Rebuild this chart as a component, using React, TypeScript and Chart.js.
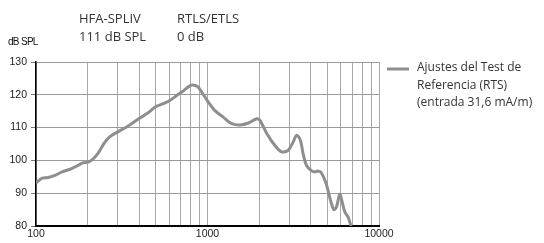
import { useEffect, useRef } from 'react';
import { Chart, registerables } from 'chart.js';

Chart.register(...registerables);

const frequencies = [
  100, 108, 118, 130, 142, 158, 173, 189, 202, 216, 231, 242, 259, 277, 300,
  354, 400, 453, 495, 552, 600, 662, 724, 797, 840, 880, 923, 1011, 1110, 1235,
  1384, 1547, 1733, 1935, 2022, 2216, 2467, 2705, 2960, 3150, 3314, 3483, 3608,
  3773, 4052, 4231, 4393, 4600, 4923, 5155, 5446, 5647, 5910, 6130, 6320, 6610, 6870,
];
const levels = [
  93.1, 94.5, 94.8, 95.5, 96.5, 97.3, 98.3, 99.3, 99.5, 100.5, 102.3, 104.1, 106.4, 107.7, 108.7,
  110.9, 112.8, 114.6, 116.3, 117.3, 118.2, 119.8, 121.2, 122.9, 122.9, 122.4, 120.9, 117.8, 115.1, 113.2,
  111.2, 110.8, 111.4, 112.7, 112.2, 108.2, 104.6, 102.6, 103.1, 105.5, 107.7, 106.1, 102.1,
  98.5, 96.8, 96.5, 96.8, 96.3, 92.9, 88.8, 85.0, 85.8, 89.7, 86.8, 84.3, 82.7, 79.9,
];
const xGridValues = [
  100, 200, 300, 400, 500, 600, 700, 800, 900,
  1000, 2000, 3000, 4000, 5000, 6000, 7000, 8000, 9000, 10000,
];
const xLabels = [100, 1000, 10000];
const yMin = 80;
const yMax = 130;
const yStep = 10;
const yUnit = 'dB SPL';
const headerLeft = ['HFA-SPLIV', '111 dB SPL'];
const headerRight = ['RTLS/ETLS', '0 dB'];
const seriesLabel = ['Ajustes del Test de', 'Referencia (RTS)', '(entrada 31,6 mA/m)'];

const LINE_COLOR = '#8e8e8e';

export default function App() {
  const ref = useRef<HTMLCanvasElement | null>(null);

  useEffect(() => {
    document.body.style.margin = '0';
    const canvas = ref.current;
    if (!canvas) return;

    const textPlugin = {
      id: 'texts',
      afterDraw(chart: any) {
        const ctx = chart.ctx as CanvasRenderingContext2D;
        ctx.save();
        ctx.fillStyle = '#333';
        ctx.textBaseline = 'middle';
        ctx.textAlign = 'left';
        ctx.font = '13px "Open Sans"';
        ctx.fillText(headerLeft[0], 79, 19);
        ctx.fillText(headerLeft[1], 79, 37);
        ctx.fillText(headerRight[0], 177, 19);
        ctx.fillText(headerRight[1], 177, 37);

        ctx.font = '10px "Liberation Sans"';
        (ctx as any).letterSpacing = '-0.7px';
        ctx.fillStyle = '#111';
        ctx.fillText(yUnit, 8, 42);
        (ctx as any).letterSpacing = '0px';

        // legend
        ctx.strokeStyle = LINE_COLOR;
        ctx.lineWidth = 3;
        ctx.beginPath();
        ctx.moveTo(387, 69);
        ctx.lineTo(409, 69);
        ctx.stroke();
        ctx.fillStyle = '#333';
        ctx.font = '12px "Open Sans"';
        seriesLabel.forEach((t, i) => ctx.fillText(t, 417, 68 + i * 17.5));
        ctx.restore();
      },
    };

    const chart = new Chart(canvas, {
      type: 'line',
      data: {
        datasets: [
          {
            data: frequencies.map((f, i) => ({ x: f, y: levels[i] })),
            borderColor: LINE_COLOR,
            borderWidth: 3,
            pointRadius: 0,
            tension: 0.3,
            fill: false,
          },
        ],
      },
      options: {
        responsive: false,
        animation: false,
        layout: { padding: { top: 62, right: 165, left: 0, bottom: 0 } },
        plugins: { legend: { display: false }, tooltip: { enabled: false } },
        scales: {
          x: {
            type: 'logarithmic',
            min: 100,
            max: 10000,
            afterBuildTicks: (s: any) => {
              s.ticks = xGridValues.map((v) => ({ value: v }));
            },
            afterFit: (s: any) => {
              s.height = 17;
            },
            ticks: {
              autoSkip: false,
              maxRotation: 0,
              padding: 2,
              color: '#222',
              font: { family: '"Liberation Sans", Arial', size: 10.5 },
              callback: (v: any) => (xLabels.includes(Number(v)) ? String(v) : ''),
            },
            grid: { color: '#a8a8a8', lineWidth: 1, drawTicks: false },
            border: { display: true, color: '#000', width: 2 },
          },
          y: {
            type: 'linear',
            min: yMin,
            max: yMax,
            afterFit: (s: any) => {
              s.width = 36;
            },
            ticks: {
              stepSize: yStep,
              padding: 4,
              color: '#222',
              font: { family: '"Liberation Sans", Arial', size: 10.5 },
            },
            grid: { color: '#9a9a9a', lineWidth: 1, tickLength: 5, tickColor: '#777' },
            border: { display: true, color: '#000', width: 1.5 },
          },
        },
      },
      plugins: [textPlugin],
    });
    return () => chart.destroy();
  }, []);

  return <canvas ref={ref} width={544} height={243} style={{ display: 'block' }} />;
}
